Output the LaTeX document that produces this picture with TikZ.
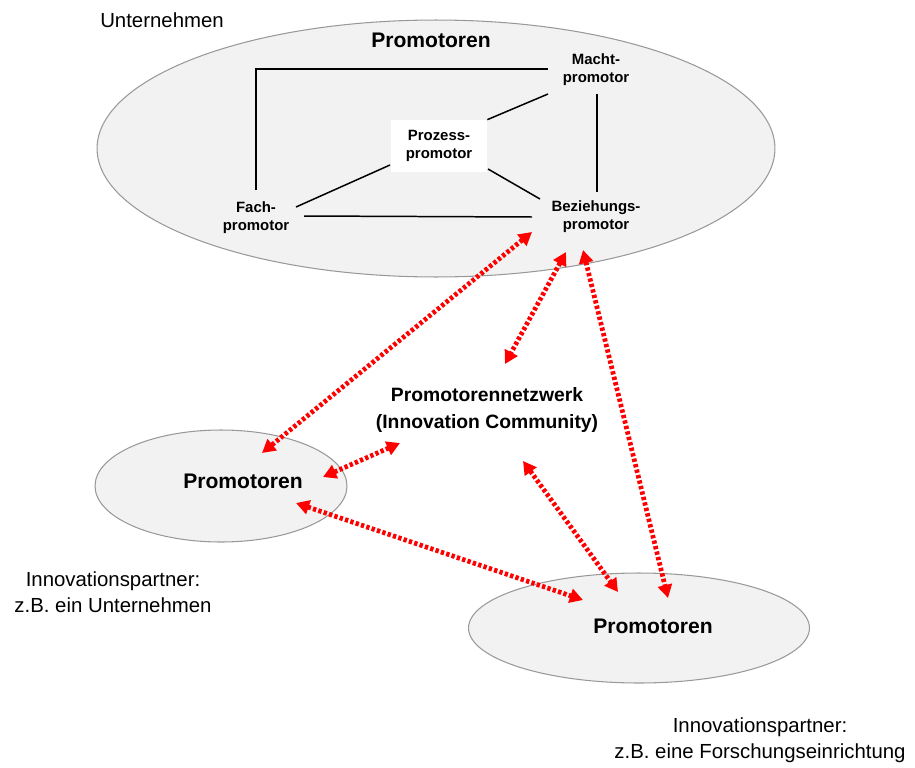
\documentclass[tikz,border=0pt]{standalone}
\usepackage{fontspec}
\setmainfont{Liberation Sans}
\usepackage{tikz}
\usetikzlibrary{
    shapes.geometric,
    arrows.meta,
    calc
}

\begin{document}
\begin{tikzpicture}[
        x=0.02cm, y=-0.02cm,
        firma/.style={ellipse, draw=gray!80, line width=0.6pt, fill=black!5, inner sep=0pt},
        promo/.style={inner sep=0pt, font=\fontsize{12}{14}\selectfont\bfseries},
        rolle/.style={align=center, inner sep=0pt, font=\fontsize{8.5}{10.2}\selectfont\bfseries},
        info/.style={align=center, inner sep=0pt, font=\fontsize{11.6}{14.7}\selectfont},
        verb/.style={black, line width=0.85pt},
        link/.style={{Triangle[length=7.5pt,width=8pt]}-{Triangle[length=7.5pt,width=8pt]}, red, line width=2.7pt, dash pattern=on 1.9pt off 1.3pt}
    ]
        \useasboundingbox (0,0) rectangle (915,767);

        % Unternehmen und Partner
        \node[firma, minimum width=13.56cm, minimum height=5.14cm] (firma) at (436,148.5) {};
        \node[firma, minimum width=5.04cm, minimum height=2.24cm] (partnerA) at (221,486) {};
        \node[firma, minimum width=6.82cm, minimum height=2.2cm] (partnerB) at (639,628) {};

        \node[info] (untlabel) at (162,20) {Unternehmen};
        \node[promo] (uprom) at (431,40) {Promotoren};
        \node[rolle] (macht) at (596,70) {Macht-\\promotor};
        \node[rolle, fill=white, minimum width=1.92cm, minimum height=1.04cm] (prozess) at (439,146) {Prozess-\\promotor};
        \node[rolle] (fach) at (256,218) {Fach-\\promotor};
        \node[rolle] (bez) at (596,217) {Beziehungs-\\promotor};

        \node[align=center, inner sep=0pt, font=\fontsize{11}{15.3}\selectfont\bfseries] (netz) at (487,410) {Promotorennetzwerk\\(Innovation Community)};
        \node[promo] (lprom) at (243,481) {Promotoren};
        \node[promo] (bprom) at (653,626) {Promotoren};
        \node[info] (lpart) at (113,592) {Innovationspartner:\\z.B. ein Unternehmen};
        \node[info] (bpart) at (760,740) {Innovationspartner:\\z.B. eine Forschungseinrichtung};

        % Rollen im Unternehmen
        \draw[verb] ($(fach)+(0,-28)$) |- ($(macht)+(-48,-1)$);
        \draw[verb] ($(macht)+(-48,24)$) -- (prozess.north east);
        \draw[verb] ($(macht)+(1,24)$) -- ($(bez)+(1,-25)$);
        \draw[verb] ($(prozess)+(-49,19)$) -- ($(fach)+(40,-11)$);
        \draw[verb] ($(prozess)+(49,23)$) -- ($(bez)+(-56,-18)$);
        \draw[verb] ($(fach)+(48,-2)$) -- ($(bez)+(-64,0)$);

        % Netzwerk
        \draw[link] ($(bez)+(-64,15)$) -- ($(lprom)+(19,-28)$);
        \draw[link] ($(bez)+(-30,35)$) -- ($(netz)+(18,-46)$);
        \draw[link] ($(bez)+(-13,33)$) -- ($(bprom)+(15,-28)$);
        \draw[link] ($(lprom)+(80,-4)$) -- ($(netz)+(-87,33)$);
        \draw[link] ($(netz)+(36,51)$) -- ($(bprom)+(-35,-34)$);
        \draw[link] ($(lprom)+(53,22)$) -- ($(bprom)+(-70,-26)$);
    \end{tikzpicture}
\end{document}
